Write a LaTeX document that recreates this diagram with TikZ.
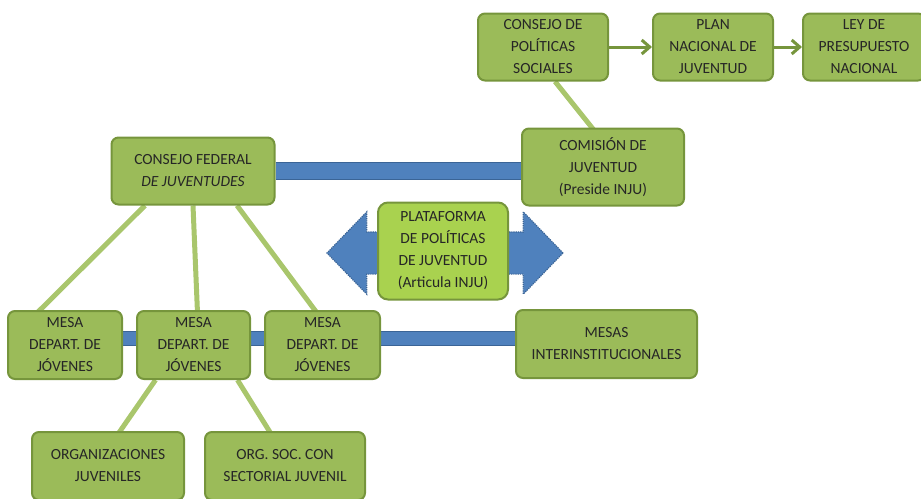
\documentclass[tikz,border=0pt]{standalone}
\usepackage{fontspec}
\setmainfont{Carlito}
\usetikzlibrary{shapes.arrows,backgrounds,arrows.meta}
\definecolor{boxfill}{HTML}{9BBB59}
\definecolor{boxline}{HTML}{76953C}
\definecolor{platfill}{HTML}{A9D24F}
\definecolor{linkgreen}{HTML}{A9C66C}
\definecolor{barblue}{HTML}{4F81BD}
\definecolor{barline}{HTML}{3A6496}
\tikzset{
  gbox/.style={draw=boxline, fill=boxfill, line width=2pt, rounded corners=7pt,
    align=center, font=\fontsize{15.5}{22}\selectfont, text=black!85, inner sep=0pt},
  plat/.style={gbox, fill=platfill, rounded corners=10pt},
  link/.style={draw=linkgreen, line width=5pt},
  flow/.style={draw=boxline, line width=3pt, -{Straight Barb[length=8pt,width=14pt,line width=3pt]}},
  bar/.style={line width=#1, barblue, preaction={draw=barline, line width=#1+2pt}},
}
\begin{document}
\begin{tikzpicture}[x=1pt,y=-1pt]
\useasboundingbox (0,0) rectangle (921,498);
% top row
\node[gbox, minimum width=130, minimum height=67] (cps) at (543,47) {CONSEJO DE\\POLÍTICAS\\SOCIALES};
\node[gbox, minimum width=120, minimum height=67] (pnj) at (713,47) {PLAN\\NACIONAL DE\\JUVENTUD};
\node[gbox, minimum width=122, minimum height=67] (ley) at (864,47) {LEY DE\\PRESUPUESTO\\NACIONAL};
% middle
\node[gbox, minimum width=162, minimum height=77] (com) at (603,167) {COMISIÓN DE\\JUVENTUD\\(Preside INJU)};
\node[gbox, minimum width=163, minimum height=67] (cf) at (193,171) {CONSEJO FEDERAL\\\textit{DE JUVENTUDES}};
% double arrow and platform
\node[double arrow, fill=barblue, draw=barline, line width=1.2pt, densely dotted,
  double arrow head extend=20pt, double arrow tip angle=92, minimum height=236pt,
  inner xsep=0pt, inner ysep=20.5pt] (arr) at (445,253) {};
\node[plat, minimum width=130, minimum height=97] (pl) at (443,251) {PLATAFORMA\\DE POLÍTICAS\\DE JUVENTUD\\(Articula INJU)};
% mesas
\node[gbox, minimum width=114, minimum height=68] (m1) at (65,345) {MESA\\DEPART. DE\\JÓVENES};
\node[gbox, minimum width=113, minimum height=68] (m2) at (193.5,345) {MESA\\DEPART. DE\\JÓVENES};
\node[gbox, minimum width=115, minimum height=68] (m3) at (322.5,345) {MESA\\DEPART. DE\\JÓVENES};
\node[gbox, minimum width=181, minimum height=68] (mi) at (606.5,344) {MESAS\\INTERINSTITUCIONALES};
% bottom
\node[gbox, minimum width=152, minimum height=68] (oj) at (108,466) {ORGANIZACIONES\\JUVENILES};
\node[gbox, minimum width=160, minimum height=68] (os) at (285,466) {ORG. SOC. CON\\SECTORIAL JUVENIL};
% connectors
\begin{scope}[on background layer]
  \draw[bar=16pt] (cf.east) -- (cf.east -| com.west);
  \draw[bar=13pt] ([yshift=7pt]m1.east) -- ([yshift=7pt]m1.east -| mi.west);
  \draw[link] ([xshift=-48pt]cf.south) -- ([xshift=-30pt,yshift=-5pt]m1.north);
  \draw[link] ([xshift=0pt]cf.south) -- ([xshift=4pt,yshift=-3pt]m2.north);
  \draw[link] ([xshift=44pt]cf.south) -- ([xshift=-4pt,yshift=-5pt]m3.north);
  \draw[link] ([xshift=-38pt]m2.south) -- ([xshift=8pt,yshift=-6pt]oj.north);
  \draw[link] ([xshift=44pt]m2.south) -- ([xshift=-12pt,yshift=-6pt]os.north);
  \draw[link] ([xshift=12pt]cps.south) -- ([xshift=-8pt,yshift=-4pt]com.north);
\end{scope}
\draw[flow] (cps) -- (pnj);
\draw[flow] (pnj) -- (ley);
\end{tikzpicture}
\end{document}
